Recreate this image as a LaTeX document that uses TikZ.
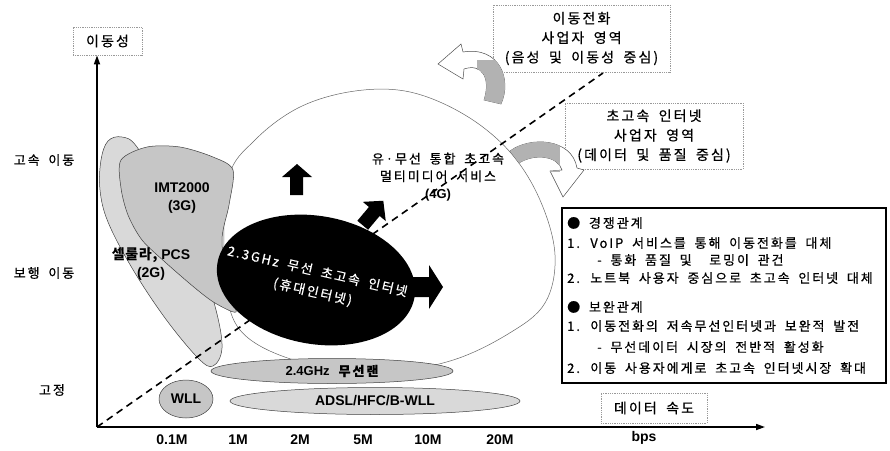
\documentclass[tikz,border=0pt]{standalone}
\usepackage{fontspec}
\setmainfont{Noto Sans CJK KR}[LetterSpace=15,WordSpace=1.8,FakeBold=0.6]
\newfontfamily\arial{Liberation Sans}
\usetikzlibrary{arrows.meta,shapes.geometric}
\begin{document}
\begin{tikzpicture}[x=1pt,y=-1pt,
  axisline/.style={line width=1.6pt,-{Triangle[length=9pt,width=6pt]}},
  dotbox/.style={draw=gray!80, densely dotted, line width=0.8pt, inner sep=0pt, align=center, font=\fontsize{14}{19.5}\selectfont},
  region/.style={draw=black!75, line width=0.5pt},
  oval/.style={ellipse, draw=black!75, line width=0.5pt, inner sep=0pt},
  kt/.style={font=\fontsize{13}{17}\selectfont, inner sep=0pt},
  bt/.style={font=\arial\bfseries\fontsize{14}{16}\selectfont, inner sep=0pt, align=center},
  blockarr/.style={fill=black},
  curvearr/.style={draw=black!70, line width=0.5pt, fill=white},
  shadepart/.style={fill=gray!60},
]
\useasboundingbox (0,0) rectangle (890,450);

% big white region (4G)
\draw[fill=white, draw=black!60, line width=0.5pt] plot[smooth cycle, tension=0.6] coordinates {
 (228,180) (255,140) (300,107) (355,91) (410,92) (465,115) (510,152) (540,200)
 (555,255) (545,303) (508,334) (450,361) (380,372) (300,362) (240,330) (225,270)};

% 2G region
\draw[region, fill=gray!30] plot[smooth cycle, tension=0.6] coordinates {
 (101,160) (108,141) (122,137) (137,147) (165,195) (200,262) (216,310) (222,348)
 (213,366) (198,358) (165,318) (132,268) (108,222) (100,190)};

% IMT2000 region
\draw[region, fill=gray!45] plot[smooth cycle, tension=0.5] coordinates {
 (121,160) (147,147) (180,147) (213,157) (233,170) (229,205) (222,240) (228,290)
 (236,312) (215,303) (195,288) (165,262) (142,240) (128,215) (121,188)};

% diagonal dashed line
\coordinate (O) at (97,427);
\coordinate (D) at (603,73);
\draw[line width=1.6pt, dash pattern=on 7pt off 5pt] (O) -- (D);

% lower ellipses
\node[oval, fill=gray!45, minimum width=242pt, minimum height=25pt,
      font=\bfseries\fontsize{13}{13}\selectfont] (wlan) at (332,371) {{\arial 2.4GHz} 무선랜};
\node[oval, fill=gray!30, minimum width=290pt, minimum height=27pt] (adsl) at (375,401)
      {\arial\bfseries\fontsize{14}{14}\selectfont ADSL/HFC/B-WLL};
\node[oval, fill=gray!45, minimum width=54pt, minimum height=38pt] (wll) at (186,399)
      {\arial\bfseries\fontsize{14}{14}\selectfont WLL};

% black ellipse (2.3GHz)
\node[ellipse, fill=black, rotate=-10, minimum width=200pt, minimum height=128pt, inner sep=0pt] (wibro) at (316,280) {};
\node[rotate=-13, text=white, align=center, font=\fontsize{13}{21}\selectfont] (wibrotxt) at (315,282)
      {2.3GHz 무선 초고속 인터넷\\(휴대인터넷)};

% block arrows
\path[blockarr] (290,195) -- (290,177) -- (282,177) -- (297,164) -- (312,177) -- (303,177) -- (303,195) -- cycle;
\begin{scope}[shift={(373,213)}, rotate=-40]
\path[blockarr] (-7,16) -- (-7,-2) -- (-15,-2) -- (0,-16) -- (15,-2) -- (7,-2) -- (7,16) -- cycle;
\end{scope}
\path[blockarr] (412,277) -- (429,277) -- (429,265) -- (443,287) -- (429,309) -- (429,297) -- (412,297) -- cycle;

% texts of regions
\node[bt] (imt) at (182,198) {IMT2000\\[2pt](3G)};
\node[bt] (cell) at (151,264) {{\fontspec{Noto Sans CJK KR}[LetterSpace=5]\bfseries 셀룰라,} PCS\\[2pt](2G)};
\node[kt, align=center, font=\fontsize{13}{17.5}\selectfont] (fourg) at (438,177)
      {유·무선 통합 초고속\\멀티미디어 서비스\\{\arial\bfseries (4G)}};

% axes
\node[dotbox, minimum width=69pt, minimum height=28pt] (ylab) at (107.5,41) {이동성};
\node[dotbox, minimum width=106pt, minimum height=30pt] (xlab) at (654,408) {데이터 속도};
\coordinate (xend) at (765,427);
\draw[axisline] (O) -- (ylab.south -| O);
\draw[axisline] (O) -- (xend);

% axis labels
\node[kt] (yl1) at (44,160) {고속 이동};
\node[kt] (yl2) at (44,273) {보행 이동};
\node[kt] (yl3) at (52,390) {고정};
\node[bt] (t1) at (172,440) {0.1M};
\node[bt] (t2) at (238,440) {1M};
\node[bt] (t3) at (300,440) {2M};
\node[bt] (t4) at (363,440) {5M};
\node[bt] (t5) at (428,440) {10M};
\node[bt] (t6) at (500,440) {20M};
\node[bt] (t7) at (644,438) {bps};

% operator boxes
\node[dotbox, minimum width=177pt, minimum height=67pt] (box1) at (581.5,38.5)
      {이동전화\\사업자 영역\\(음성 및 이동성 중심)};
\node[dotbox, minimum width=178pt, minimum height=66pt] (box2) at (654,136)
      {초고속 인터넷\\사업자 영역\\(데이터 및 품질 중심)};

% curved arrows
\path[curvearr] (501,104) .. controls (512,80) and (500,46) .. (463,52) -- (461,44) -- (438,64)
   -- (463,79) -- (464,69) .. controls (482,63) and (491,78) .. (484,100) -- cycle;
\begin{scope}
\clip (501,104) .. controls (512,80) and (500,46) .. (463,52) -- (461,44) -- (438,64)
   -- (463,79) -- (464,69) .. controls (482,63) and (491,78) .. (484,100) -- cycle;
\fill[shadepart] (477,60) rectangle (515,110);
\end{scope}
\path[curvearr] (510,151) .. controls (530,136) and (572,138) .. (577,168) -- (584,170) -- (563,197)
   -- (550,171) -- (562,170) .. controls (558,156) and (535,153) .. (519,163) -- cycle;
\begin{scope}
\clip (510,151) .. controls (530,136) and (572,138) .. (577,168) -- (584,170) -- (563,197)
   -- (550,171) -- (562,170) .. controls (558,156) and (535,153) .. (519,163) -- cycle;
\fill[shadepart] (505,130) rectangle (560,172);
\end{scope}

% relation box
\node[draw=black, line width=1.3pt, minimum width=324pt, minimum height=175pt, inner sep=0pt] (rel) at (724,295.5) {};
\node[kt, anchor=west] (r1) at (567,223) {● 경쟁관계};
\node[kt, anchor=west] (r2) at (567,243) {1. VoIP 서비스를 통해 이동전화를 대체};
\node[kt, anchor=west] (r3) at (597,260) {- 통화 품질 및 \ 로밍이 관건};
\node[kt, anchor=west] (r4) at (567,278) {2. 노트북 사용자 중심으로 초고속 인터넷 대체};
\node[kt, anchor=west] (r5) at (567,307) {● 보완관계};
\node[kt, anchor=west] (r6) at (567,326) {1. 이동전화의 저속무선인터넷과 보완적 발전};
\node[kt, anchor=west] (r7) at (597,347) {- 무선데이터 시장의 전반적 활성화};
\node[kt, anchor=west] (r8) at (567,368) {2. 이동 사용자에게로 초고속 인터넷시장 확대};
\end{tikzpicture}
\end{document}
